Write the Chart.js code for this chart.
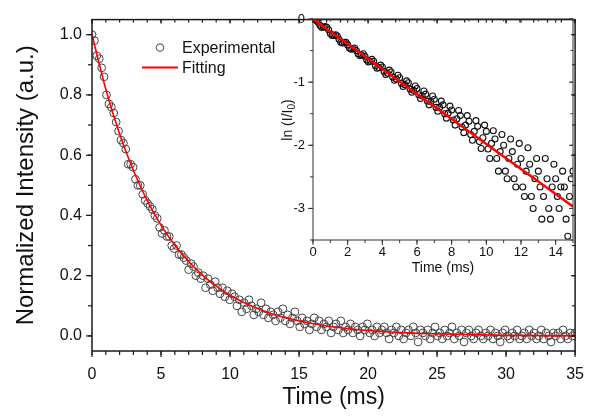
<!DOCTYPE html>
<html>
<head>
<meta charset="utf-8">
<script src="https://cdn.jsdelivr.net/npm/chart.js@4.4.0/dist/chart.umd.min.js"></script>
<style>
  html, body { margin: 0; padding: 0; background: #fff; }
  #wrap { position: relative; width: 598px; height: 419px; }
  #wrap canvas { position: absolute; left: 0; top: 0; }
</style>
</head>
<body>
<div id="wrap">
  <canvas id="mainChart" width="598" height="419"></canvas>
  <canvas id="insetChart" width="598" height="419"></canvas>
</div>
<script>
// main plot: decay, one point every 0.175 ms
const mainStep = 0.175;
const mainIntensity = [
  1.00, 0.98, 0.93, 0.92, 0.89, 0.86, 0.80, 0.77, 0.76, 0.74,
  0.71, 0.68, 0.65, 0.64, 0.62, 0.57, 0.57, 0.56, 0.52, 0.50,
  0.50, 0.47, 0.45, 0.44, 0.43, 0.42, 0.40, 0.39, 0.36, 0.34,
  0.35, 0.33, 0.33, 0.30, 0.29, 0.30, 0.27, 0.27, 0.26, 0.25,
  0.22, 0.24, 0.23, 0.20, 0.21, 0.19, 0.20, 0.16, 0.19, 0.17,
  0.15, 0.18, 0.16, 0.14, 0.16, 0.13, 0.15, 0.12, 0.14, 0.13,
  0.10, 0.12, 0.08, 0.11, 0.09, 0.12, 0.10, 0.07, 0.09, 0.08,
  0.11, 0.07, 0.09, 0.06, 0.08, 0.07, 0.05, 0.08, 0.06, 0.09,
  0.05, 0.07, 0.04, 0.06, 0.08, 0.05, 0.03, 0.06, 0.04, 0.05,
  0.02, 0.04, 0.06, 0.03, 0.05, 0.02, 0.04, 0.03, 0.05, 0.01,
  0.03, 0.04, 0.02, 0.05, 0.01, 0.03, 0.02, 0.04, 0.01, 0.03,
  0.02, 0.00, 0.03, 0.02, 0.04, 0.01, 0.02, 0.00, 0.03, 0.01,
  0.02, 0.03, 0.01, -0.01, 0.02, 0.01, 0.03, 0.00, 0.02, -0.01,
  0.01, 0.02, 0.00, 0.03, 0.01, -0.02, 0.02, 0.01, 0.00, 0.02,
  -0.01, 0.01, 0.03, 0.00, 0.01, -0.01, 0.02, 0.00, 0.01, 0.03,
  -0.01, 0.01, 0.00, 0.02, -0.02, 0.01, 0.02, 0.00, -0.01, 0.01,
  0.02, 0.00, -0.01, 0.01, 0.00, 0.02, -0.01, 0.01, 0.00, -0.02,
  0.01, 0.02, 0.00, -0.01, 0.01, 0.00, 0.02, -0.01, 0.00, 0.01,
  -0.01, 0.02, 0.00, 0.01, -0.01, 0.00, 0.02, -0.01, 0.01, 0.00,
  -0.02, 0.01, 0.00, 0.01, -0.01, 0.02, 0.00, -0.01, 0.01, 0.00,
  0.01
];
const fitTime = [0, 1, 2, 3, 4, 5, 6, 7, 8, 9, 10, 11, 12, 13, 14, 15, 16, 17,
  18, 19, 20, 21, 22, 23, 24, 25, 26, 27, 28, 29, 30, 31, 32, 33, 34, 35];
const fitIntensity = [1.000, 0.819, 0.670, 0.549, 0.449, 0.368, 0.301, 0.247, 0.202,
  0.165, 0.135, 0.111, 0.091, 0.074, 0.061, 0.050, 0.041, 0.033, 0.027, 0.022,
  0.018, 0.015, 0.012, 0.010, 0.008, 0.007, 0.006, 0.005, 0.004, 0.003, 0.002,
  0.002, 0.002, 0.001, 0.001, 0.001];
const xTicks = [0, 5, 10, 15, 20, 25, 30, 35];
const yTicks = [0.0, 0.2, 0.4, 0.6, 0.8, 1.0];

// inset: ln(I/I0), one point every 0.1 ms
const insetStep = 0.1;
const insetLn = [
  0.00, -0.01, -0.02, -0.05, -0.10, -0.13, -0.13, -0.12, -0.13, -0.17,
  -0.23, -0.26, -0.26, -0.25, -0.27, -0.32, -0.37, -0.38, -0.37, -0.37,
  -0.41, -0.46, -0.48, -0.47, -0.46, -0.50, -0.55, -0.58, -0.57, -0.55,
  -0.59, -0.65, -0.68, -0.67, -0.64, -0.67, -0.74, -0.78, -0.77, -0.73,
  -0.76, -0.83, -0.88, -0.86, -0.81, -0.84, -0.92, -0.97, -0.95, -0.89,
  -0.93, -1.02, -1.07, -1.04, -0.98, -1.01, -1.11, -1.16, -1.13, -1.06,
  -1.10, -1.20, -1.26, -1.22, -1.14, -1.19, -1.30, -1.36, -1.31, -1.22,
  -1.27, -1.40, -1.46, -1.40, -1.30, -1.36, -1.50, -1.57, -1.49, -1.38,
  -1.44, -1.60, -1.68, -1.58, -1.45, -1.53, -1.71, -1.80, -1.68, -1.53,
  -1.62, -1.83, -1.92, -1.78, -1.61, -1.70, -1.94, -2.05, -1.88, -1.68,
  -1.78, -2.06, -2.21, -1.97, -1.77, -1.90, -2.21, -2.41, -2.10, -1.83,
  -2.00, -2.41, -2.53, -2.21, -1.90, -2.10, -2.53, -2.66, -2.30, -1.97,
  -2.21, -2.66, -2.81, -2.41, -2.04, -2.30, -2.81, -3.00, -2.53, -2.21,
  -2.41, -2.66, -3.17, -2.81, -2.21, -2.53, -3.00, -3.17, -2.66, -2.30,
  -2.53, -2.81, -3.00, -2.66, -2.41, -2.66, -3.17, -3.44, -2.81, -2.53,
  -2.41
];
const insetFitTime = [0, 15];
const insetFitLn = [0, -2.97];
const insetXTicks = [0, 2, 4, 6, 8, 10, 12, 14];
const insetYTicks = [0, -1, -2, -3];

const FONT = '"Liberation Sans", Arial, sans-serif';
Chart.defaults.font.family = FONT;
Chart.defaults.color = '#111';

// box frame with Origin style ticks (out on bottom/left, in on top/right)
const framePlugin = {
  id: 'frame',
  afterDatasetsDraw(chart, args, o) {
    const { ctx, chartArea: a } = chart;
    const xs = chart.scales.x, ys = chart.scales.y;
    ctx.save();
    ctx.strokeStyle = o.color;
    ctx.lineWidth = o.tickWidth;
    const line = (x1, y1, x2, y2) => { ctx.beginPath(); ctx.moveTo(x1, y1); ctx.lineTo(x2, y2); ctx.stroke(); };
    const eachX = (step, fn) => { for (let v = xs.min; v <= xs.max + 1e-9; v += step) fn(xs.getPixelForValue(v)); };
    const eachY = (step, fn) => {
      const start = Math.ceil(ys.min / step - 1e-9) * step;
      for (let v = start; v <= ys.max + 1e-9; v += step) fn(ys.getPixelForValue(v));
    };
    eachX(o.xMinor, px => { line(px, a.bottom, px, a.bottom + o.outMinor); line(px, a.top, px, a.top + o.inMinor); });
    eachX(o.xMajor, px => { line(px, a.bottom, px, a.bottom + o.outMajor); line(px, a.top, px, a.top + o.inMajor); });
    eachY(o.yMinor, py => { line(a.left, py, a.left - o.outMinor, py); line(a.right, py, a.right - o.inMinor, py); });
    eachY(o.yMajor, py => { line(a.left, py, a.left - o.outMajor, py); line(a.right, py, a.right - o.inMajor, py); });
    ctx.lineWidth = o.width;
    ctx.strokeRect(a.left, a.top, a.right - a.left, a.bottom - a.top);
    ctx.restore();
  }
};

// legend inside the main plot
const legendPlugin = {
  id: 'innerLegend',
  afterDraw(chart) {
    const { ctx, chartArea: a } = chart;
    const ds = chart.data.datasets;
    const x0 = a.left + 50, y0 = a.top + 28;
    ctx.save();
    ctx.font = '16px ' + FONT;
    ctx.fillStyle = '#111';
    ctx.textBaseline = 'middle';
    ctx.strokeStyle = ds[0].borderColor;
    ctx.lineWidth = 1;
    ctx.beginPath(); ctx.arc(x0 + 18, y0, 3.8, 0, Math.PI * 2); ctx.stroke();
    ctx.fillText(ds[0].label, x0 + 40, y0 + 1);
    ctx.strokeStyle = ds[1].borderColor;
    ctx.lineWidth = 2;
    ctx.beginPath(); ctx.moveTo(x0, y0 + 20); ctx.lineTo(x0 + 36, y0 + 20); ctx.stroke();
    ctx.fillText(ds[1].label, x0 + 40, y0 + 21);
    ctx.restore();
  }
};

// inset y title with subscript 0
const insetTitlePlugin = {
  id: 'insetTitle',
  afterDraw(chart) {
    const { ctx, chartArea: a } = chart;
    ctx.save();
    ctx.translate(a.left - 26, a.top + 101);
    ctx.rotate(-Math.PI / 2);
    ctx.fillStyle = '#111';
    ctx.textBaseline = 'alphabetic';
    const big = '14px ' + FONT, small = '10px ' + FONT;
    ctx.font = big;
    const p1 = 'ln (I/I', p3 = ')';
    const w1 = ctx.measureText(p1).width, w3 = ctx.measureText(p3).width;
    ctx.font = small;
    const w2 = ctx.measureText('0').width;
    let x = -(w1 + w2 + w3) / 2;
    ctx.font = big; ctx.fillText(p1, x, 5); x += w1;
    ctx.font = small; ctx.fillText('0', x, 8); x += w2;
    ctx.font = big; ctx.fillText(p3, x, 5);
    ctx.restore();
  }
};

const mainPoints = mainIntensity.map((v, i) => ({ x: i * mainStep, y: v }));
const fitPoints = fitTime.map((t, i) => ({ x: t, y: fitIntensity[i] }));

new Chart(document.getElementById('mainChart'), {
  type: 'scatter',
  data: {
    datasets: [
      { label: 'Experimental', data: mainPoints, pointStyle: 'circle', pointRadius: 3.9,
        borderColor: '#444', backgroundColor: 'rgba(255,255,255,0)', borderWidth: 1, order: 2 },
      { label: 'Fitting', type: 'line', data: fitPoints, borderColor: '#ff0000', borderWidth: 1.6,
        pointRadius: 0, cubicInterpolationMode: 'monotone', fill: false, order: 1 }
    ]
  },
  options: {
    responsive: false, animation: false, events: [],
    layout: { padding: { top: 10, right: 15, left: 0, bottom: 0 } },
    plugins: {
      legend: { display: false }, tooltip: { enabled: false },
      frame: { color: '#1a1a1a', width: 1.5, tickWidth: 1.2, xMajor: 5, xMinor: 1, yMajor: 0.2, yMinor: 0.1,
        outMajor: 6, outMinor: 4, inMajor: 4, inMinor: 3 }
    },
    scales: {
      x: {
        type: 'linear', min: 0, max: 35,
        afterBuildTicks: s => { s.ticks = xTicks.map(v => ({ value: v })); },
        afterFit: s => { s.height = 68; },
        grid: { display: false, drawTicks: false }, border: { display: false },
        ticks: { font: { size: 16 }, padding: 14, maxRotation: 0, autoSkip: false, callback: v => String(v) },
        title: { display: true, text: 'Time (ms)', font: { size: 23 }, padding: { top: 0, bottom: 8 } }
      },
      y: {
        type: 'linear', min: -0.05, max: 1.05,
        afterBuildTicks: s => { s.ticks = yTicks.map(v => ({ value: v })); },
        afterFit: s => { s.width = 92; },
        grid: { display: false, drawTicks: false }, border: { display: false },
        ticks: { font: { size: 16 }, padding: 10, autoSkip: false, callback: v => v.toFixed(1) },
        title: { display: true, text: 'Normalized Intensity (a.u.)', font: { size: 24 }, padding: { top: 12, bottom: 0 } }
      }
    }
  },
  plugins: [framePlugin, legendPlugin]
});

const insetPoints = insetLn.map((v, i) => ({ x: i * insetStep, y: v }));
const insetFitPoints = insetFitTime.map((t, i) => ({ x: t, y: insetFitLn[i] }));

new Chart(document.getElementById('insetChart'), {
  type: 'scatter',
  data: {
    datasets: [
      { label: 'ln', data: insetPoints, pointStyle: 'circle', pointRadius: 3,
        borderColor: '#111', backgroundColor: 'rgba(255,255,255,0)', borderWidth: 1.1, order: 2 },
      { label: 'fit', type: 'line', data: insetFitPoints, borderColor: '#ff0000', borderWidth: 2.5,
        pointRadius: 0, fill: false, order: 1 }
    ]
  },
  options: {
    responsive: false, animation: false, events: [],
    layout: { padding: { top: 19, right: 25, left: 278, bottom: 139 } },
    plugins: {
      legend: { display: false }, tooltip: { enabled: false },
      frame: { color: '#333', width: 1, tickWidth: 1, xMajor: 2, xMinor: 1, yMajor: 1, yMinor: 0.5,
        outMajor: 5, outMinor: 3, inMajor: 4, inMinor: 2.5 }
    },
    scales: {
      x: {
        type: 'linear', min: 0, max: 15,
        afterBuildTicks: s => { s.ticks = insetXTicks.map(v => ({ value: v })); },
        afterFit: s => { s.height = 40; },
        grid: { display: false, drawTicks: false }, border: { display: false },
        ticks: { font: { size: 13 }, padding: 5, maxRotation: 0, autoSkip: false, callback: v => String(v) },
        title: { display: true, text: 'Time (ms)', font: { size: 14 }, padding: { top: 0, bottom: 3 } }
      },
      y: {
        type: 'linear', min: -3.5, max: 0,
        afterBuildTicks: s => { s.ticks = insetYTicks.map(v => ({ value: v })); },
        afterFit: s => { s.width = 35; },
        grid: { display: false, drawTicks: false }, border: { display: false },
        ticks: { font: { size: 13 }, padding: 8, autoSkip: false, callback: v => String(v) },
        title: { display: false }
      }
    }
  },
  plugins: [framePlugin, insetTitlePlugin]
});
</script>
</body>
</html>
